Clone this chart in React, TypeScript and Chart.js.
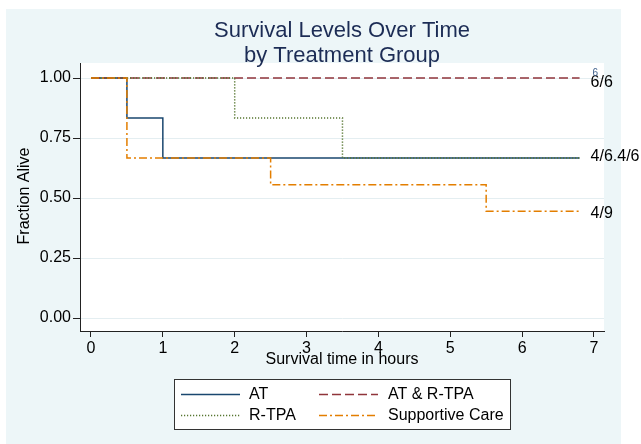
import React, { useEffect, useRef } from "react";
import { Chart, registerables } from "chart.js";
Chart.register(...registerables);

// ---- data ----
const groups = ["AT", "AT & R-TPA", "R-TPA", "Supportive Care"];
const atTimes = [0, 0.5, 1, 6.8];
const atSurv = [1, 0.8333, 0.6667, 0.6667];
const atrTimes = [0, 6.8];
const atrSurv = [1, 1];
const rtpaTimes = [0, 2, 3.5, 6.8];
const rtpaSurv = [1, 0.8333, 0.6667, 0.6667];
const scTimes = [0, 0.5, 2.5, 5.5, 6.8];
const scSurv = [1, 0.6667, 0.5556, 0.4444, 0.4444];
const endLabels = ["4/6.4/6", "6/6", "", "4/9"];
const atRiskNote = "6";
const yTicks = [0, 0.25, 0.5, 0.75, 1];
const xTicks = [0, 1, 2, 3, 4, 5, 6, 7];
const titleLines = ["Survival Levels Over Time", "by Treatment Group"];
const xTitle = "Survival time in hours";
const yTitle = "Fraction Alive";

const FONT = '"Liberation Sans", Arial, sans-serif';
const colors = ["#1a476f", "#90353b", "#55752f", "#e37e00"];
const dashes = [[], [9, 4], [1.2, 1.8], [8, 3, 2, 3]];
const labelDy = [-1, 5, -1, 2];

const series = [
  { t: atTimes, s: atSurv },
  { t: atrTimes, s: atrSurv },
  { t: rtpaTimes, s: rtpaSurv },
  { t: scTimes, s: scSurv },
];

const chromePlugin = {
  id: "chrome",
  beforeDraw(chart: any) {
    const { ctx, chartArea: a } = chart;
    ctx.save();
    ctx.fillStyle = "#ffffff";
    ctx.fillRect(0, 0, chart.width, chart.height);
    ctx.fillStyle = "#edf6f8";
    ctx.fillRect(6, 9, 615, 435);
    ctx.fillStyle = "#ffffff";
    ctx.fillRect(a.left, a.top, a.right - a.left, a.bottom - a.top);
    ctx.restore();
  },
  afterDatasetsDraw(chart: any) {
    const { ctx } = chart;
    const xs = chart.scales.x;
    const ys = chart.scales.y;
    ctx.save();
    ctx.font = `16px ${FONT}`;
    ctx.fillStyle = "#000";
    ctx.textBaseline = "middle";
    ctx.textAlign = "left";
    series.forEach((sr, i) => {
      if (!endLabels[i]) return;
      const n = sr.t.length - 1;
      const px = xs.getPixelForValue(sr.t[n]) + 11;
      const py = ys.getPixelForValue(sr.s[n]) + labelDy[i];
      ctx.fillText(endLabels[i], px, py);
    });
    // small at-risk note above 6/6
    const n1 = atrTimes.length - 1;
    ctx.font = `10px ${FONT}`;
    ctx.fillStyle = "#3b5d8a";
    ctx.fillText(atRiskNote, xs.getPixelForValue(atrTimes[n1]) + 13, ys.getPixelForValue(atrSurv[n1]) - 5);
    ctx.restore();
  },
  afterDraw(chart: any) {
    const { ctx, chartArea: a } = chart;
    const cx = (a.left + a.right) / 2;
    ctx.save();
    // title
    ctx.font = `22px ${FONT}`;
    ctx.fillStyle = "#1c2c55";
    ctx.textAlign = "center";
    ctx.textBaseline = "middle";
    ctx.fillText(titleLines[0], cx, 31);
    ctx.fillText(titleLines[1], cx, 56);
    // axis titles
    ctx.font = `16px ${FONT}`;
    ctx.fillStyle = "#000";
    ctx.fillText(xTitle, cx, 360);
    ctx.save();
    ctx.translate(25, (a.top + a.bottom) / 2 - 1);
    ctx.rotate(-Math.PI / 2);
    ctx.fillText(yTitle, 0, 0);
    ctx.restore();
    // legend
    const bx = 174.5, by = 379.5, bw = 336, bh = 50;
    ctx.fillStyle = "#ffffff";
    ctx.fillRect(bx, by, bw, bh);
    ctx.strokeStyle = "#333";
    ctx.lineWidth = 1;
    ctx.strokeRect(bx, by, bw, bh);
    const colLine = [181, 319];
    const colText = [249, 388];
    const rowY = [394, 415];
    groups.forEach((g, i) => {
      const c = i % 2;
      const r = Math.floor(i / 2);
      const ds = chart.data.datasets[i];
      ctx.save();
      ctx.strokeStyle = ds.borderColor;
      ctx.lineWidth = ds.borderWidth;
      ctx.setLineDash(ds.borderDash || []);
      ctx.beginPath();
      ctx.moveTo(colLine[c], rowY[r] + 0.5);
      ctx.lineTo(colLine[c] + 59, rowY[r] + 0.5);
      ctx.stroke();
      ctx.restore();
      ctx.fillStyle = "#000";
      ctx.textAlign = "left";
      ctx.font = `16px ${FONT}`;
      ctx.fillText(g, colText[c], rowY[r] + 1);
    });
    ctx.restore();
  },
};

export default function App() {
  const ref = useRef<HTMLCanvasElement>(null);
  useEffect(() => {
    if (!ref.current) return;
    Chart.defaults.font.family = FONT;
    const datasets = series.map((sr, i) => ({
      label: groups[i],
      data: sr.t.map((t, j) => ({ x: t, y: sr.s[j] })),
      borderColor: colors[i],
      borderWidth: 1.5,
      borderDash: dashes[i],
      pointRadius: 0,
      stepped: true as any,
      fill: false,
      order: 4 - i,
    }));
    const chart = new Chart(ref.current, {
      type: "line",
      data: { datasets },
      plugins: [chromePlugin],
      options: {
        responsive: false,
        animation: false,
        events: [],
        layout: { padding: { left: 0, top: 63, right: 37, bottom: 0 } },
        plugins: { legend: { display: false }, title: { display: false }, tooltip: { enabled: false } },
        scales: {
          x: {
            type: "linear",
            min: -0.153,
            max: 7.14,
            afterFit: (s: any) => { s.height = 113; },
            afterBuildTicks: (s: any) => { s.ticks = xTicks.map((v) => ({ value: v })); },
            grid: { drawOnChartArea: false, drawTicks: true, tickLength: 6, tickColor: "#222" },
            border: { display: true, color: "#222", width: 1 },
            ticks: { color: "#000", font: { size: 16, family: FONT }, padding: 2, maxRotation: 0, callback: (v: any) => String(v) },
          },
          y: {
            type: "linear",
            min: -0.054,
            max: 1.0625,
            afterFit: (s: any) => { s.width = 80; },
            afterBuildTicks: (s: any) => { s.ticks = yTicks.map((v) => ({ value: v })); },
            grid: { drawOnChartArea: true, color: "#e4eef1", drawTicks: true, tickLength: 7, tickColor: "#222" },
            border: { display: true, color: "#222", width: 1 },
            ticks: { color: "#000", font: { size: 16, family: FONT }, padding: 2, callback: (v: any) => Number(v).toFixed(2) },
          },
        },
      } as any,
    });
    return () => chart.destroy();
  }, []);
  return (
    <div style={{ position: "absolute", left: 0, top: 0, width: 641, height: 444 }}>
      <canvas ref={ref} width={641} height={444} style={{ width: 641, height: 444, display: "block" }} />
    </div>
  );
}
